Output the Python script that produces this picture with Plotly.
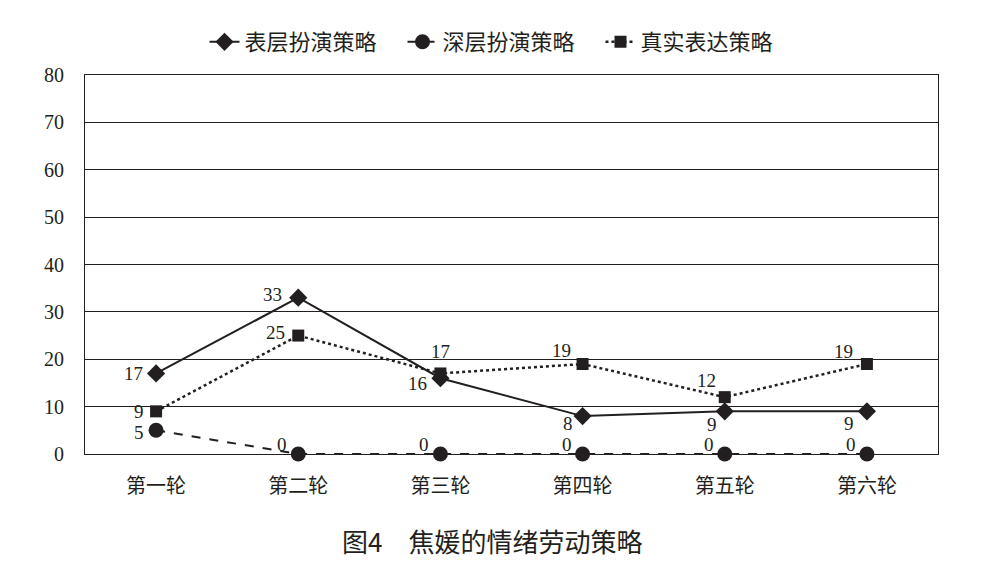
import plotly.graph_objects as go

categories = ["第一轮", "第二轮", "第三轮", "第四轮", "第五轮", "第六轮"]
surface = [17, 33, 16, 8, 9, 9]
deep = [5, 0, 0, 0, 0, 0]
genuine = [9, 25, 17, 19, 12, 19]
y_ticks = [0, 10, 20, 30, 40, 50, 60, 70, 80]

# label pixel offsets (x, y) relative to each point
surface_off = [(-23, 0), (-26, 3), (-23, -5), (-15, -7), (-13, -13), (-18, -12)]
deep_off = [(-17, -2), (-16, 10), (-16, 10), (-16, 10), (-16, 10), (-16, 10)]
genuine_off = [(-17, 0), (-23, 3), (0, 22), (-21, 13), (-18, 17), (-23, 12)]

ink = "#231f20"
num_font = dict(family="Liberation Serif, Times New Roman, serif", size=19, color=ink)
cjk = "Noto Sans CJK SC, sans-serif"

fig = go.Figure()
series = [
    ("表层扮演策略", surface, surface_off, dict(color=ink, width=2, dash="solid"),
     dict(symbol="diamond", size=14, color=ink)),
    ("深层扮演策略", deep, deep_off, dict(color=ink, width=2, dash="dash"),
     dict(symbol="circle", size=15, color=ink)),
    ("真实表达策略", genuine, genuine_off, dict(color=ink, width=2.5, dash="dot"),
     dict(symbol="square", size=12, color=ink)),
]
annotations = []
for name, vals, offs, line, marker in series:
    fig.add_trace(go.Scatter(x=categories, y=vals, name=name, mode="lines+markers",
                             line=line, marker=marker, cliponaxis=False))
    for c, v, (dx, dy) in zip(categories, vals, offs):
        annotations.append(dict(x=c, y=v, xref="x", yref="y", text=str(v), showarrow=False,
                                xshift=dx, yshift=dy, xanchor="center", yanchor="middle",
                                font=num_font))

annotations.append(dict(text="图4　焦媛的情绪劳动策略", x=0.477, xref="paper", y=-0.227, yref="paper",
                        xanchor="center", yanchor="middle", showarrow=False,
                        font=dict(family=cjk, size=26, color=ink)))

fig.update_layout(
    width=987, height=562,
    margin=dict(l=77, r=57, t=67, b=116, autoexpand=False),
    paper_bgcolor="white", plot_bgcolor="white",
    showlegend=True,
    legend=dict(orientation="h", x=0.5, xanchor="center", xref="container",
                y=0.9395, yanchor="middle", yref="container",
                font=dict(family=cjk, size=22, color=ink),
                entrywidth=153, traceorder="normal"),
    xaxis=dict(type="category", range=[-0.5, 5.5], showgrid=False, showline=True,
               linecolor=ink, linewidth=1, mirror=True, ticks="", ticklabelstandoff=14,
               tickfont=dict(family=cjk, size=20, color=ink)),
    yaxis=dict(range=[0, 80], tickvals=y_ticks, showgrid=True, gridcolor=ink,
               gridwidth=1, showline=True, linecolor=ink, linewidth=1, mirror=True,
               zeroline=False, ticks="", ticklabelstandoff=16,
               tickfont=dict(family="Liberation Serif, serif", size=20, color=ink)),
    annotations=annotations,
)

fig.write_html("out.html")
